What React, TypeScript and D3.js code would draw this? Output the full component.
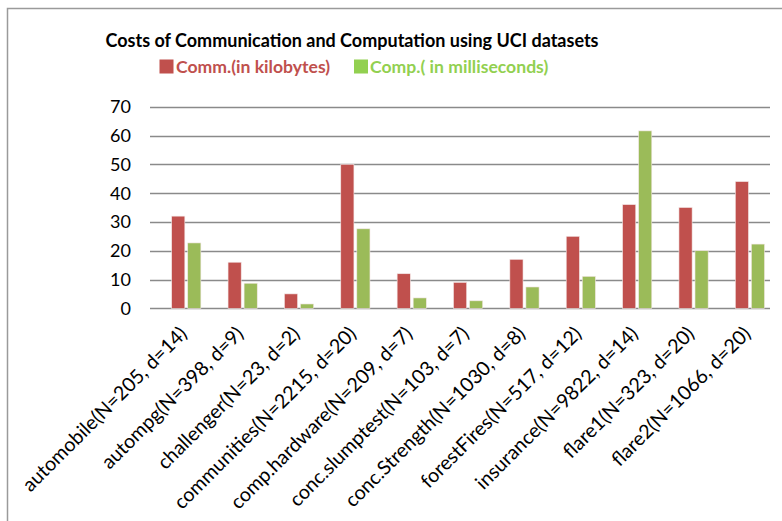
import React from 'react';
import * as d3 from 'd3';

const categories = [
  'automobile(N=205, d=14)',
  'autompg(N=398, d=9)',
  'challenger(N=23, d=2)',
  'communities(N=2215, d=20)',
  'comp.hardware(N=209, d=7)',
  'conc.slumptest(N=103, d=7)',
  'conc.Strength(N=1030, d=8)',
  'forestFires(N=517, d=12)',
  'insurance(N=9822, d=14)',
  'flare1(N=323, d=20)',
  'flare2(N=1066, d=20)',
];
const commValues = [32, 16, 5, 50, 12, 9, 17, 25, 36, 35, 44];
const compValues = [22.7, 8.7, 1.5, 27.6, 3.6, 2.6, 7.4, 11.1, 61.6, 20, 22.3];
const seriesNames = ['Comm.(in kilobytes)', 'Comp.( in milliseconds)'];
const yTicks = [0, 10, 20, 30, 40, 50, 60, 70];

const barColors = ['#C0504D', '#9BBB59'];
const legendColors = ['#C0504D', '#92D050'];
const font = 'Lato, "Liberation Sans", sans-serif';

const App = () => {
  const width = 782;
  const height = 521;

  const y = d3.scaleLinear().domain([0, 70]).range([308.3, 106.7]);
  const x0 = d3.scaleBand<string>().domain(categories).range([158.1, 778.1]).padding(0);
  const x1 = d3.scaleBand<string>().domain(seriesNames).range([-14.6, 14.6]).paddingInner(0.18);
  const series = [commValues, compValues];

  return (
    <svg width={width} height={height} style={{ position: 'absolute', left: 0, top: 0, fontFamily: font }}>
      <rect x={7.5} y={8.5} width={800} height={600} fill="#fff" stroke="#9a9a9a" strokeWidth={1.5} />

      <text x={352} y={47} textAnchor="middle" fontSize={18} fontWeight="bold" fill="#000">
        Costs of Communication and Computation using UCI datasets
      </text>

      {/* legend */}
      <rect x={159.5} y={59.5} width={14} height={14} fill={legendColors[0]} />
      <text x={176} y={73} fontSize={17.6} fontWeight="bold" fill={legendColors[0]}>{seriesNames[0]}</text>
      <rect x={354} y={59.5} width={14} height={14} fill={legendColors[1]} />
      <text x={370} y={73} fontSize={17.6} fontWeight="bold" fill={legendColors[1]}>{seriesNames[1]}</text>

      {/* grid + y ticks */}
      {yTicks.map((t) => (
        <g key={t}>
          <line x1={150} x2={770} y1={Math.round(y(t)) + 0.5} y2={Math.round(y(t)) + 0.5} stroke="#8a8a8a" strokeWidth={1.3} />
          <text x={131} y={y(t) + 6.5} textAnchor="end" fontSize={18} fill="#000">{t}</text>
        </g>
      ))}

      {/* bars */}
      {categories.map((c, i) => {
        const cx = x0(c)! + x0.bandwidth() / 2;
        return (
          <g key={c}>
            {series.map((vals, s) => (
              <rect
                key={s}
                x={cx + x1(seriesNames[s])!}
                y={y(vals[i])}
                width={x1.bandwidth()}
                height={y(0) - y(vals[i])}
                fill={barColors[s]}
                stroke="#f3e6e6"
                strokeWidth={0.6}
              />
            ))}
            <text
              transform={`translate(${cx + 2},${335}) rotate(-45)`}
              textAnchor="end"
              fontSize={19.7}
              fill="#000"
            >
              {c}
            </text>
          </g>
        );
      })}
    </svg>
  );
};

export default App;
